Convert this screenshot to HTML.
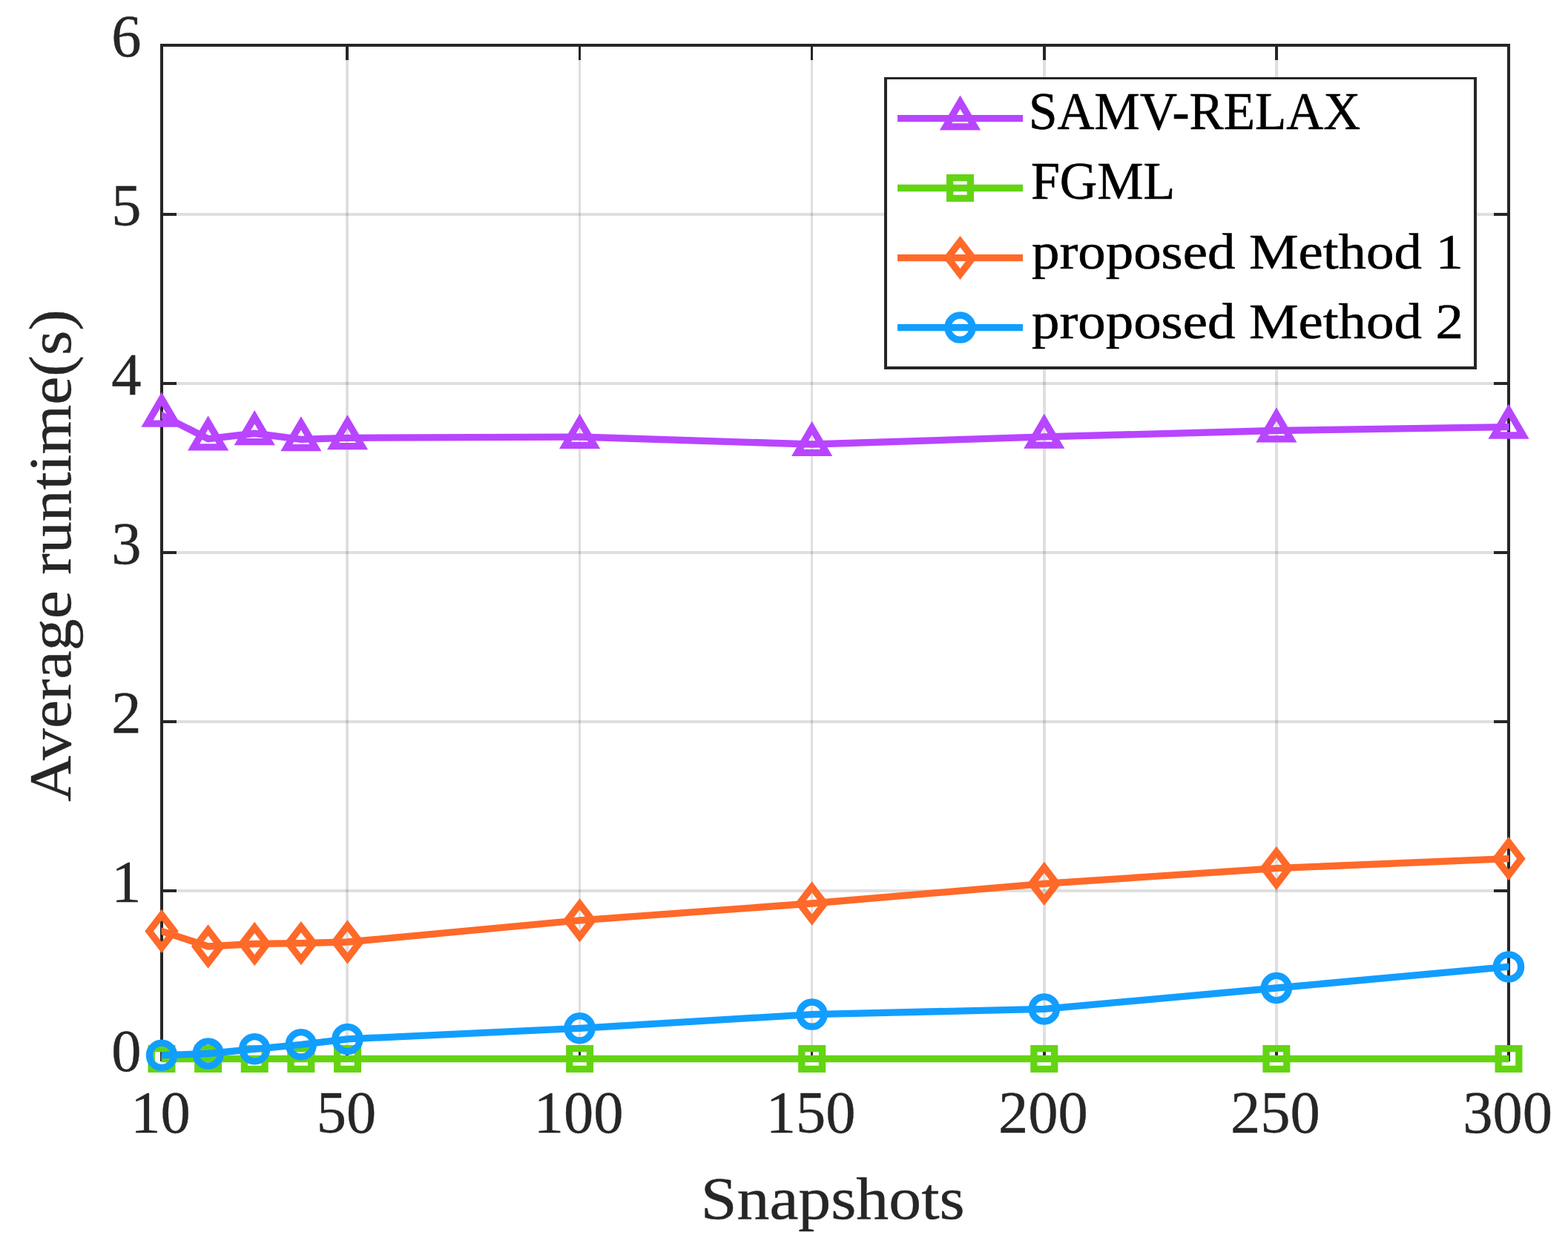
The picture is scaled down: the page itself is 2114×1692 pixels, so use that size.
<!DOCTYPE html>
<html lang="en">
<head>
<meta charset="utf-8">
<title>Average runtime versus snapshots</title>
<style>
html,body{margin:0;padding:0;background:#fff;}
body{width:2114px;height:1692px;overflow:hidden;}
svg{display:block;}
text{font-family:"Liberation Serif",serif;}
.tk{font-size:80.5px;fill:#262626;stroke:#262626;stroke-width:0.4px;}
.lb{font-size:80px;fill:#262626;stroke:#262626;stroke-width:0.4px;}
.lg{font-size:71px;fill:#000;stroke:#000;stroke-width:0.6px;}
.lg2{font-size:67px;fill:#000;stroke:#000;stroke-width:0.6px;}
</style>
</head>
<body>
<svg width="2114" height="1692" viewBox="0 0 2114 1692">
<rect x="0" y="0" width="2114" height="1692" fill="#ffffff"/>
<defs><clipPath id="axx"><rect x="217.5" y="0" width="1817.0" height="1692"/></clipPath></defs>
<g stroke="#262626" stroke-opacity="0.15" stroke-width="4" fill="none">
<line x1="218" y1="61.0" x2="218" y2="1429.0" stroke-width="4"/>
<line x1="468" y1="61.0" x2="468" y2="1429.0" stroke-width="4"/>
<line x1="781.5" y1="61.0" x2="781.5" y2="1429.0" stroke-width="3"/>
<line x1="1094.5" y1="61.0" x2="1094.5" y2="1429.0" stroke-width="3"/>
<line x1="1408" y1="61.0" x2="1408" y2="1429.0" stroke-width="4"/>
<line x1="1721" y1="61.0" x2="1721" y2="1429.0" stroke-width="4"/>
<line x1="2034" y1="61.0" x2="2034" y2="1429.0" stroke-width="4"/>
<line x1="218.0" y1="1429.00" x2="2034.0" y2="1429.00"/>
<line x1="218.0" y1="1201.00" x2="2034.0" y2="1201.00"/>
<line x1="218.0" y1="973.00" x2="2034.0" y2="973.00"/>
<line x1="218.0" y1="745.00" x2="2034.0" y2="745.00"/>
<line x1="218.0" y1="517.00" x2="2034.0" y2="517.00"/>
<line x1="218.0" y1="289.00" x2="2034.0" y2="289.00"/>
<line x1="218.0" y1="61.00" x2="2034.0" y2="61.00"/>
</g>
<g stroke="#262626" stroke-width="4" fill="none" stroke-linecap="butt">
<rect x="218.0" y="61.0" width="1816.0" height="1368.0"/>
<line x1="468" y1="1429.0" x2="468" y2="1409.0" stroke-width="4"/>
<line x1="468" y1="61.0" x2="468" y2="81.0" stroke-width="4"/>
<line x1="781.5" y1="1429.0" x2="781.5" y2="1409.0" stroke-width="3"/>
<line x1="781.5" y1="61.0" x2="781.5" y2="81.0" stroke-width="3"/>
<line x1="1094.5" y1="1429.0" x2="1094.5" y2="1409.0" stroke-width="3"/>
<line x1="1094.5" y1="61.0" x2="1094.5" y2="81.0" stroke-width="3"/>
<line x1="1408" y1="1429.0" x2="1408" y2="1409.0" stroke-width="4"/>
<line x1="1408" y1="61.0" x2="1408" y2="81.0" stroke-width="4"/>
<line x1="1721" y1="1429.0" x2="1721" y2="1409.0" stroke-width="4"/>
<line x1="1721" y1="61.0" x2="1721" y2="81.0" stroke-width="4"/>
<line x1="218.0" y1="1201.00" x2="238.0" y2="1201.00"/>
<line x1="2034.0" y1="1201.00" x2="2014.0" y2="1201.00"/>
<line x1="218.0" y1="973.00" x2="238.0" y2="973.00"/>
<line x1="2034.0" y1="973.00" x2="2014.0" y2="973.00"/>
<line x1="218.0" y1="745.00" x2="238.0" y2="745.00"/>
<line x1="2034.0" y1="745.00" x2="2014.0" y2="745.00"/>
<line x1="218.0" y1="517.00" x2="238.0" y2="517.00"/>
<line x1="2034.0" y1="517.00" x2="2014.0" y2="517.00"/>
<line x1="218.0" y1="289.00" x2="238.0" y2="289.00"/>
<line x1="2034.0" y1="289.00" x2="2014.0" y2="289.00"/>
</g>
<g>
<polyline points="210.87,556.18 218.00,559.80 280.62,591.60 343.24,584.30 405.86,592.40 468.48,590.40 781.59,589.00 1094.69,599.00 1407.79,588.90 1720.90,580.50 2034.00,575.70 2042.00,575.58" fill="none" stroke="#b845ff" stroke-width="9.3" stroke-linejoin="miter" stroke-miterlimit="10" stroke-linecap="butt" clip-path="url(#axx)"/>
<polygon points="218.00,537.80 237.50,571.10 198.50,571.10" fill="none" stroke="#b845ff" stroke-width="9.3" stroke-linejoin="miter" stroke-miterlimit="10"/>
<polygon points="280.62,569.60 300.12,602.90 261.12,602.90" fill="none" stroke="#b845ff" stroke-width="9.3" stroke-linejoin="miter" stroke-miterlimit="10"/>
<polygon points="343.24,562.30 362.74,595.60 323.74,595.60" fill="none" stroke="#b845ff" stroke-width="9.3" stroke-linejoin="miter" stroke-miterlimit="10"/>
<polygon points="405.86,570.40 425.36,603.70 386.36,603.70" fill="none" stroke="#b845ff" stroke-width="9.3" stroke-linejoin="miter" stroke-miterlimit="10"/>
<polygon points="468.48,568.40 487.98,601.70 448.98,601.70" fill="none" stroke="#b845ff" stroke-width="9.3" stroke-linejoin="miter" stroke-miterlimit="10"/>
<polygon points="781.59,567.00 801.09,600.30 762.09,600.30" fill="none" stroke="#b845ff" stroke-width="9.3" stroke-linejoin="miter" stroke-miterlimit="10"/>
<polygon points="1094.69,577.00 1114.19,610.30 1075.19,610.30" fill="none" stroke="#b845ff" stroke-width="9.3" stroke-linejoin="miter" stroke-miterlimit="10"/>
<polygon points="1407.79,566.90 1427.29,600.20 1388.29,600.20" fill="none" stroke="#b845ff" stroke-width="9.3" stroke-linejoin="miter" stroke-miterlimit="10"/>
<polygon points="1720.90,558.50 1740.40,591.80 1701.40,591.80" fill="none" stroke="#b845ff" stroke-width="9.3" stroke-linejoin="miter" stroke-miterlimit="10"/>
<polygon points="2034.00,553.70 2053.50,587.00 2014.50,587.00" fill="none" stroke="#b845ff" stroke-width="9.3" stroke-linejoin="miter" stroke-miterlimit="10"/>
</g>
<g>
<polyline points="210.00,1427.50 218.00,1427.50 280.62,1427.50 343.24,1427.50 405.86,1427.50 468.48,1427.50 781.59,1427.50 1094.69,1427.50 1407.79,1427.50 1720.90,1427.50 2034.00,1427.50 2042.00,1427.50" fill="none" stroke="#63d412" stroke-width="9.3" stroke-linejoin="miter" stroke-miterlimit="10" stroke-linecap="butt" clip-path="url(#axx)"/>
<rect x="204.15" y="1413.65" width="27.70" height="27.70" fill="none" stroke="#63d412" stroke-width="9.3" stroke-linejoin="miter" stroke-miterlimit="10"/>
<rect x="266.77" y="1413.65" width="27.70" height="27.70" fill="none" stroke="#63d412" stroke-width="9.3" stroke-linejoin="miter" stroke-miterlimit="10"/>
<rect x="329.39" y="1413.65" width="27.70" height="27.70" fill="none" stroke="#63d412" stroke-width="9.3" stroke-linejoin="miter" stroke-miterlimit="10"/>
<rect x="392.01" y="1413.65" width="27.70" height="27.70" fill="none" stroke="#63d412" stroke-width="9.3" stroke-linejoin="miter" stroke-miterlimit="10"/>
<rect x="454.63" y="1413.65" width="27.70" height="27.70" fill="none" stroke="#63d412" stroke-width="9.3" stroke-linejoin="miter" stroke-miterlimit="10"/>
<rect x="767.74" y="1413.65" width="27.70" height="27.70" fill="none" stroke="#63d412" stroke-width="9.3" stroke-linejoin="miter" stroke-miterlimit="10"/>
<rect x="1080.84" y="1413.65" width="27.70" height="27.70" fill="none" stroke="#63d412" stroke-width="9.3" stroke-linejoin="miter" stroke-miterlimit="10"/>
<rect x="1393.94" y="1413.65" width="27.70" height="27.70" fill="none" stroke="#63d412" stroke-width="9.3" stroke-linejoin="miter" stroke-miterlimit="10"/>
<rect x="1707.05" y="1413.65" width="27.70" height="27.70" fill="none" stroke="#63d412" stroke-width="9.3" stroke-linejoin="miter" stroke-miterlimit="10"/>
<rect x="2020.15" y="1413.65" width="27.70" height="27.70" fill="none" stroke="#63d412" stroke-width="9.3" stroke-linejoin="miter" stroke-miterlimit="10"/>
</g>
<g>
<polyline points="210.40,1252.90 218.00,1255.40 280.62,1276.00 343.24,1272.50 405.86,1271.60 468.48,1270.00 781.59,1240.80 1094.69,1218.00 1407.79,1191.40 1720.90,1170.60 2034.00,1157.70 2041.99,1157.37" fill="none" stroke="#ff6929" stroke-width="9.3" stroke-linejoin="miter" stroke-miterlimit="10" stroke-linecap="butt" clip-path="url(#axx)"/>
<polygon points="218.00,1233.40 234.90,1255.40 218.00,1277.40 201.10,1255.40" fill="none" stroke="#ff6929" stroke-width="9.3" stroke-linejoin="miter" stroke-miterlimit="10"/>
<polygon points="280.62,1254.00 297.52,1276.00 280.62,1298.00 263.72,1276.00" fill="none" stroke="#ff6929" stroke-width="9.3" stroke-linejoin="miter" stroke-miterlimit="10"/>
<polygon points="343.24,1250.50 360.14,1272.50 343.24,1294.50 326.34,1272.50" fill="none" stroke="#ff6929" stroke-width="9.3" stroke-linejoin="miter" stroke-miterlimit="10"/>
<polygon points="405.86,1249.60 422.76,1271.60 405.86,1293.60 388.96,1271.60" fill="none" stroke="#ff6929" stroke-width="9.3" stroke-linejoin="miter" stroke-miterlimit="10"/>
<polygon points="468.48,1248.00 485.38,1270.00 468.48,1292.00 451.58,1270.00" fill="none" stroke="#ff6929" stroke-width="9.3" stroke-linejoin="miter" stroke-miterlimit="10"/>
<polygon points="781.59,1218.80 798.49,1240.80 781.59,1262.80 764.69,1240.80" fill="none" stroke="#ff6929" stroke-width="9.3" stroke-linejoin="miter" stroke-miterlimit="10"/>
<polygon points="1094.69,1196.00 1111.59,1218.00 1094.69,1240.00 1077.79,1218.00" fill="none" stroke="#ff6929" stroke-width="9.3" stroke-linejoin="miter" stroke-miterlimit="10"/>
<polygon points="1407.79,1169.40 1424.69,1191.40 1407.79,1213.40 1390.89,1191.40" fill="none" stroke="#ff6929" stroke-width="9.3" stroke-linejoin="miter" stroke-miterlimit="10"/>
<polygon points="1720.90,1148.60 1737.80,1170.60 1720.90,1192.60 1704.00,1170.60" fill="none" stroke="#ff6929" stroke-width="9.3" stroke-linejoin="miter" stroke-miterlimit="10"/>
<polygon points="2034.00,1135.70 2050.90,1157.70 2034.00,1179.70 2017.10,1157.70" fill="none" stroke="#ff6929" stroke-width="9.3" stroke-linejoin="miter" stroke-miterlimit="10"/>
</g>
<g>
<polyline points="210.00,1422.98 218.00,1422.70 280.62,1420.50 343.24,1414.30 405.86,1408.30 468.48,1400.90 781.59,1386.30 1094.69,1367.60 1407.79,1360.40 1720.90,1332.00 2034.00,1303.40 2041.97,1302.67" fill="none" stroke="#129eff" stroke-width="9.3" stroke-linejoin="miter" stroke-miterlimit="10" stroke-linecap="butt" clip-path="url(#axx)"/>
<circle cx="218.00" cy="1422.70" r="16.6" fill="none" stroke="#129eff" stroke-width="9.3" stroke-linejoin="miter" stroke-miterlimit="10"/>
<circle cx="280.62" cy="1420.50" r="16.6" fill="none" stroke="#129eff" stroke-width="9.3" stroke-linejoin="miter" stroke-miterlimit="10"/>
<circle cx="343.24" cy="1414.30" r="16.6" fill="none" stroke="#129eff" stroke-width="9.3" stroke-linejoin="miter" stroke-miterlimit="10"/>
<circle cx="405.86" cy="1408.30" r="16.6" fill="none" stroke="#129eff" stroke-width="9.3" stroke-linejoin="miter" stroke-miterlimit="10"/>
<circle cx="468.48" cy="1400.90" r="16.6" fill="none" stroke="#129eff" stroke-width="9.3" stroke-linejoin="miter" stroke-miterlimit="10"/>
<circle cx="781.59" cy="1386.30" r="16.6" fill="none" stroke="#129eff" stroke-width="9.3" stroke-linejoin="miter" stroke-miterlimit="10"/>
<circle cx="1094.69" cy="1367.60" r="16.6" fill="none" stroke="#129eff" stroke-width="9.3" stroke-linejoin="miter" stroke-miterlimit="10"/>
<circle cx="1407.79" cy="1360.40" r="16.6" fill="none" stroke="#129eff" stroke-width="9.3" stroke-linejoin="miter" stroke-miterlimit="10"/>
<circle cx="1720.90" cy="1332.00" r="16.6" fill="none" stroke="#129eff" stroke-width="9.3" stroke-linejoin="miter" stroke-miterlimit="10"/>
<circle cx="2034.00" cy="1303.40" r="16.6" fill="none" stroke="#129eff" stroke-width="9.3" stroke-linejoin="miter" stroke-miterlimit="10"/>
</g>
<g class="tk" text-anchor="middle">
<text x="216.50" y="1527">10</text>
<text x="466.98" y="1527">50</text>
<text x="780.09" y="1527">100</text>
<text x="1093.19" y="1527">150</text>
<text x="1406.29" y="1527">200</text>
<text x="1719.40" y="1527">250</text>
<text x="2032.50" y="1527">300</text>
</g>
<g class="tk" text-anchor="end">
<text x="190.5" y="1444.00">0</text>
<text x="190.5" y="1216.00">1</text>
<text x="190.5" y="988.00">2</text>
<text x="190.5" y="760.00">3</text>
<text x="190.5" y="532.00">4</text>
<text x="190.5" y="304.00">5</text>
<text x="190.5" y="76.00">6</text>
</g>
<text class="lb" x="1122.7" y="1643.2" text-anchor="middle" textLength="356" lengthAdjust="spacingAndGlyphs">Snapshots</text>
<text class="lb" transform="translate(94.7 748.9) rotate(-90)" text-anchor="middle" textLength="663.6" lengthAdjust="spacingAndGlyphs">Average runtime(s)</text>
<rect x="1192" y="104" width="799" height="394" fill="#ffffff"/>
<g fill="#262626">
<rect x="1192" y="104" width="799" height="3"/>
<rect x="1192" y="494" width="799" height="4"/>
<rect x="1192" y="104" width="4" height="394"/>
<rect x="1987" y="104" width="4" height="394"/>
</g>
<line x1="1210" y1="159.6" x2="1379" y2="159.6" stroke="#b845ff" stroke-width="9.3"/>
<polygon points="1294.50,137.60 1314.00,170.90 1275.00,170.90" fill="none" stroke="#b845ff" stroke-width="9.3" stroke-linejoin="miter" stroke-miterlimit="10"/>
<text class="lg" x="1386.9" y="174.2" textLength="447.3" lengthAdjust="spacingAndGlyphs">SAMV-RELAX</text>
<line x1="1210" y1="253.5" x2="1379" y2="253.5" stroke="#63d412" stroke-width="9.3"/>
<rect x="1280.65" y="239.65" width="27.70" height="27.70" fill="none" stroke="#63d412" stroke-width="9.3" stroke-linejoin="miter" stroke-miterlimit="10"/>
<text class="lg" x="1390" y="268.1" textLength="194.2" lengthAdjust="spacingAndGlyphs">FGML</text>
<line x1="1210" y1="347.6" x2="1379" y2="347.6" stroke="#ff6929" stroke-width="9.3"/>
<polygon points="1294.50,325.60 1311.40,347.60 1294.50,369.60 1277.60,347.60" fill="none" stroke="#ff6929" stroke-width="9.3" stroke-linejoin="miter" stroke-miterlimit="10"/>
<text class="lg2" x="1391" y="362.2" textLength="582" lengthAdjust="spacingAndGlyphs">proposed Method 1</text>
<line x1="1210" y1="441.6" x2="1379" y2="441.6" stroke="#129eff" stroke-width="9.3"/>
<circle cx="1294.50" cy="441.60" r="16.6" fill="none" stroke="#129eff" stroke-width="9.3" stroke-linejoin="miter" stroke-miterlimit="10"/>
<text class="lg2" x="1391" y="456.2" textLength="582" lengthAdjust="spacingAndGlyphs">proposed Method 2</text>
</svg>
</body>
</html>
